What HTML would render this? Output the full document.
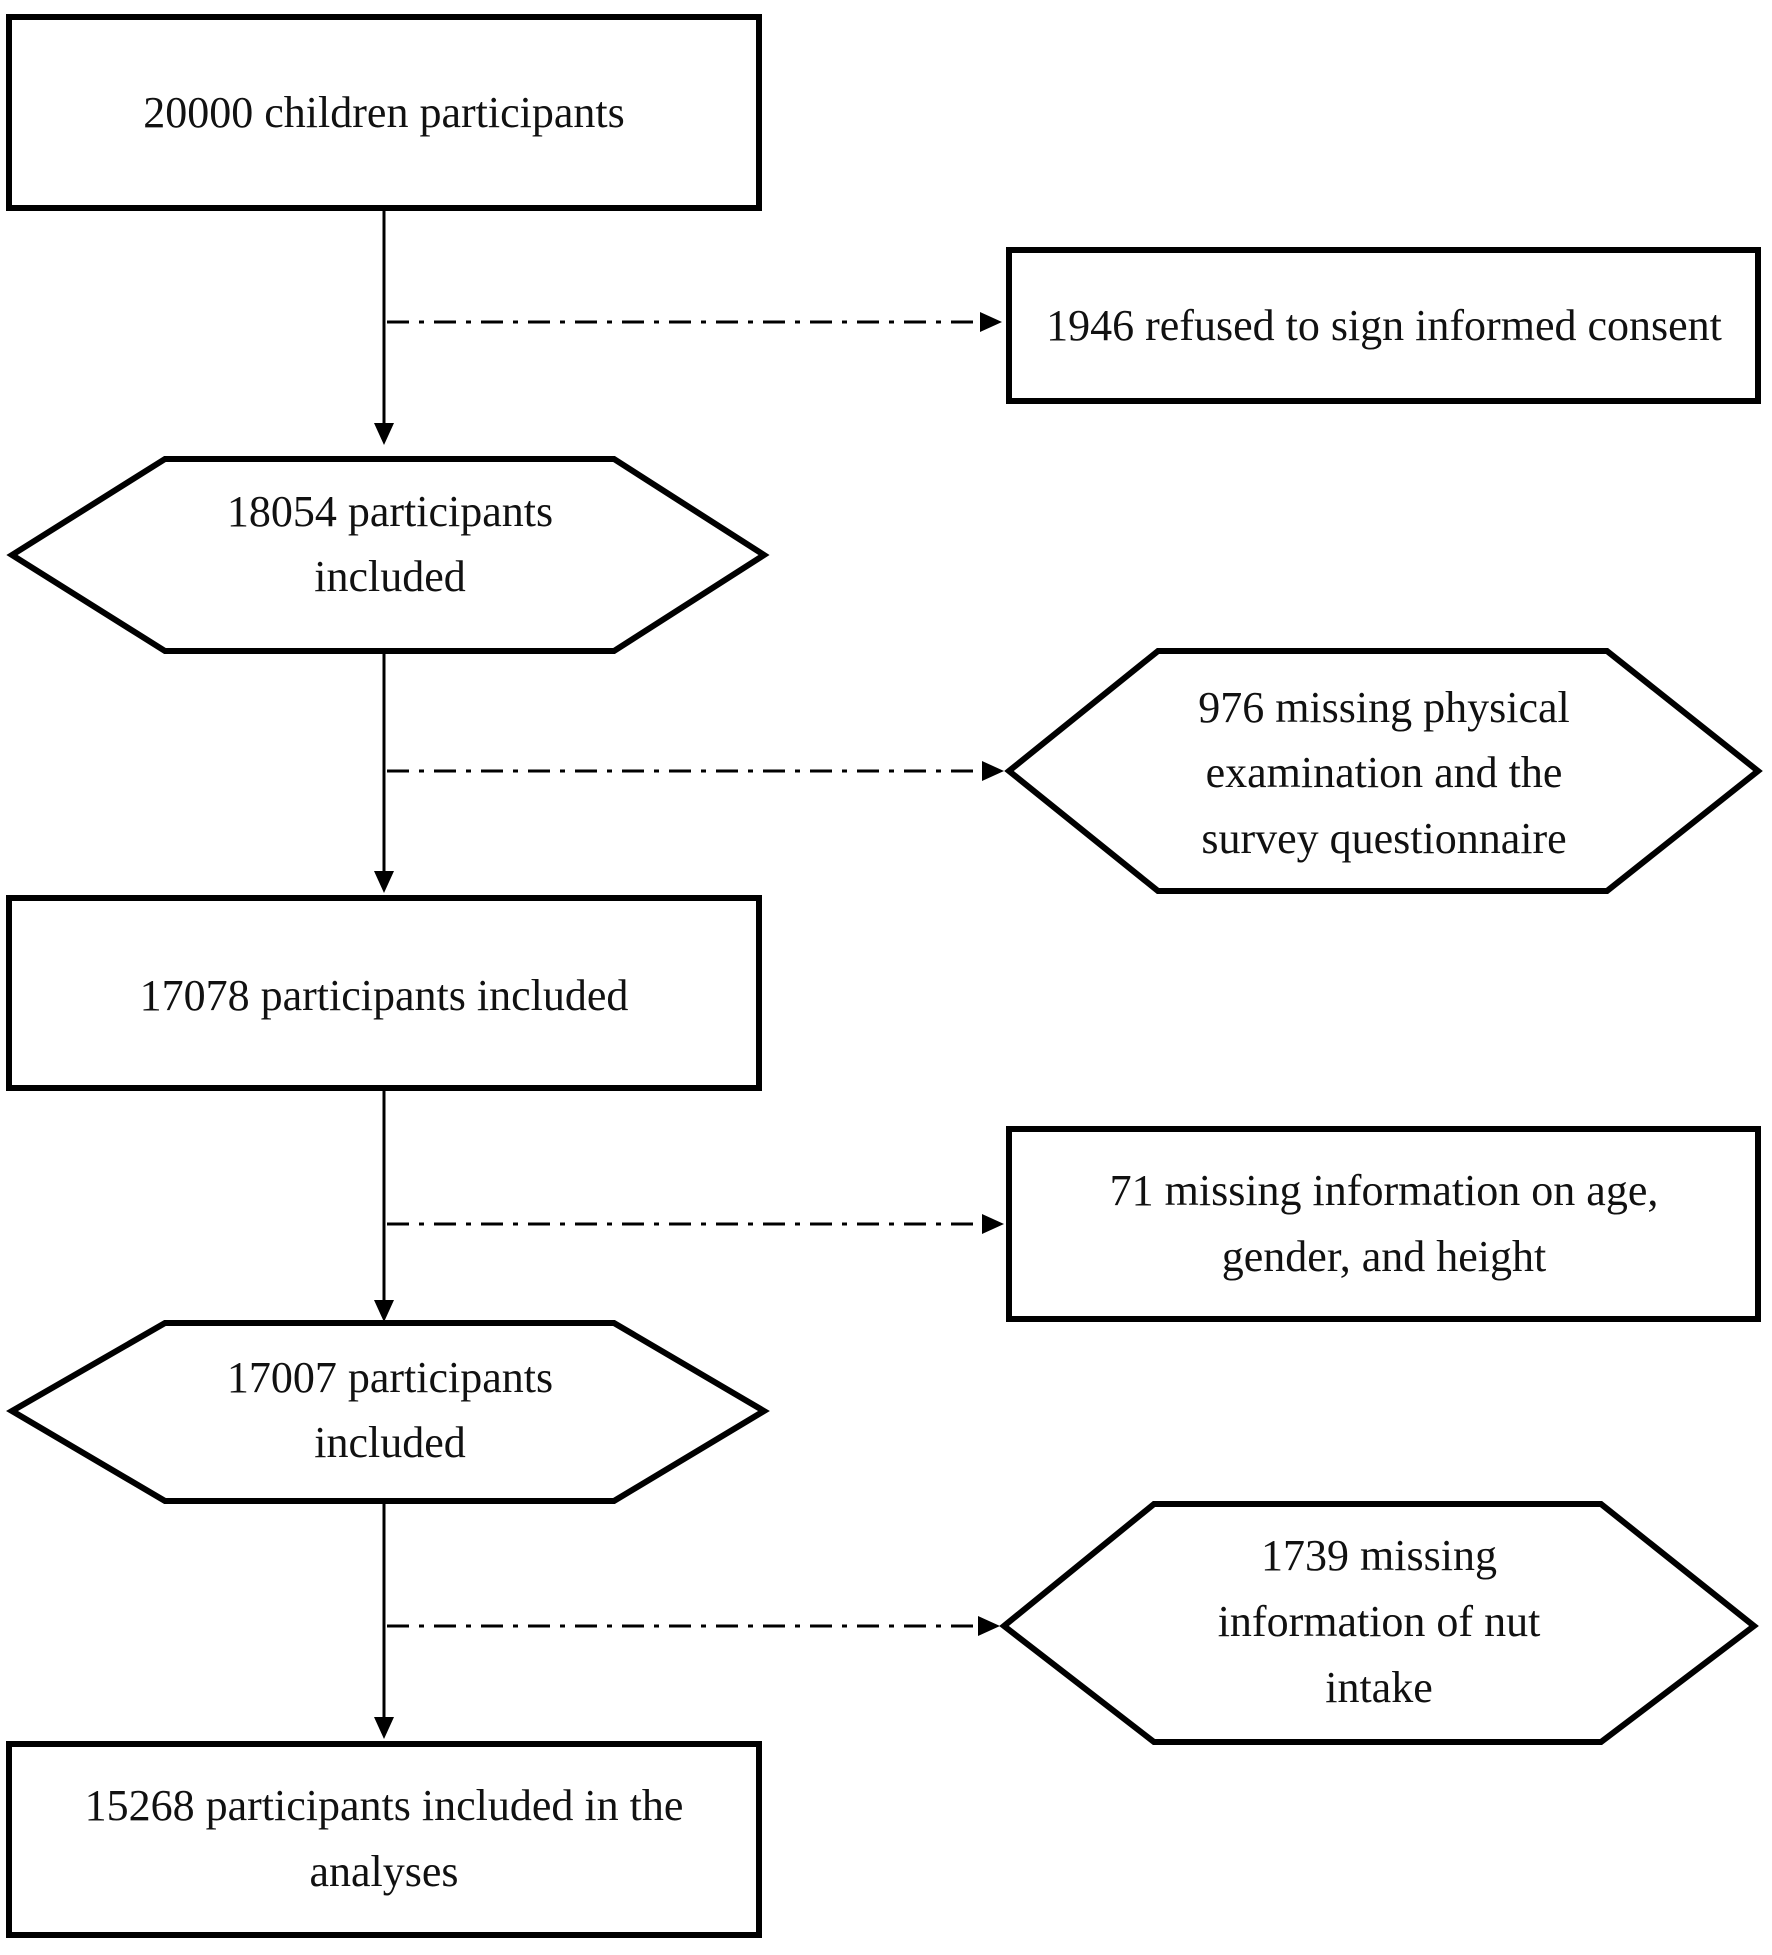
<!DOCTYPE html>
<html><head><meta charset="utf-8"><style>
html,body{margin:0;padding:0;background:#fff;}
svg{display:block;}
text{font-family:"Liberation Serif",serif;font-size:44px;fill:#111;text-anchor:middle;}
</style></head><body>
<svg width="1772" height="1955" viewBox="0 0 1772 1955" xmlns="http://www.w3.org/2000/svg">
<g fill="none" stroke="#000" stroke-width="6">
<rect x="9" y="17" width="750" height="191"/>
<rect x="1009" y="250" width="749" height="151"/>
<polygon points="12,555 165,459 614,459 764,555 614,651 165,651"/>
<polygon points="1009,771 1158,651 1607,651 1758,771 1607,891 1158,891"/>
<rect x="9" y="898" width="750" height="190"/>
<rect x="1009" y="1129" width="749" height="190"/>
<polygon points="12,1411 165,1323 614,1323 764,1411 614,1501 165,1501"/>
<polygon points="1004,1626 1154,1504 1601,1504 1754,1626 1601,1742 1154,1742"/>
<rect x="9" y="1744" width="750" height="191"/>
</g>
<g stroke="#000" stroke-width="3">
<line x1="384" y1="210" x2="384" y2="425"/>
<line x1="384" y1="651" x2="384" y2="873"/>
<line x1="384" y1="1089" x2="384" y2="1302"/>
<line x1="384" y1="1501" x2="384" y2="1719"/>
</g>
<g fill="#000">
<polygon points="374,423 394,423 384,445"/>
<polygon points="374,871 394,871 384,893"/>
<polygon points="374,1300 394,1300 384,1322"/>
<polygon points="374,1717 394,1717 384,1739"/>
<polygon points="980,312 1002,322 980,332"/>
<polygon points="982,761 1004,771 982,781"/>
<polygon points="982,1214 1004,1224 982,1234"/>
<polygon points="978,1616 1000,1626 978,1636"/>
</g>
<g stroke="#000" stroke-width="3" stroke-dasharray="22,10,5,10">
<line x1="387" y1="322" x2="982" y2="322"/>
<line x1="387" y1="771" x2="984" y2="771"/>
<line x1="387" y1="1224" x2="984" y2="1224"/>
<line x1="387" y1="1626" x2="980" y2="1626"/>
</g>
<text x="384" y="127">20000 children participants</text>
<text x="1384" y="340">1946 refused to sign informed consent</text>
<text x="390" y="526">18054 participants</text>
<text x="390" y="591">included</text>
<text x="1384" y="722">976 missing physical</text>
<text x="1384" y="787">examination and the</text>
<text x="1384" y="853">survey questionnaire</text>
<text x="384" y="1010">17078 participants included</text>
<text x="1384" y="1205">71 missing information on age,</text>
<text x="1384" y="1271">gender, and height</text>
<text x="390" y="1392">17007 participants</text>
<text x="390" y="1457">included</text>
<text x="1379" y="1570">1739 missing</text>
<text x="1379" y="1636">information of nut</text>
<text x="1379" y="1702">intake</text>
<text x="384" y="1820">15268 participants included in the</text>
<text x="384" y="1886">analyses</text>
</svg>
</body></html>
